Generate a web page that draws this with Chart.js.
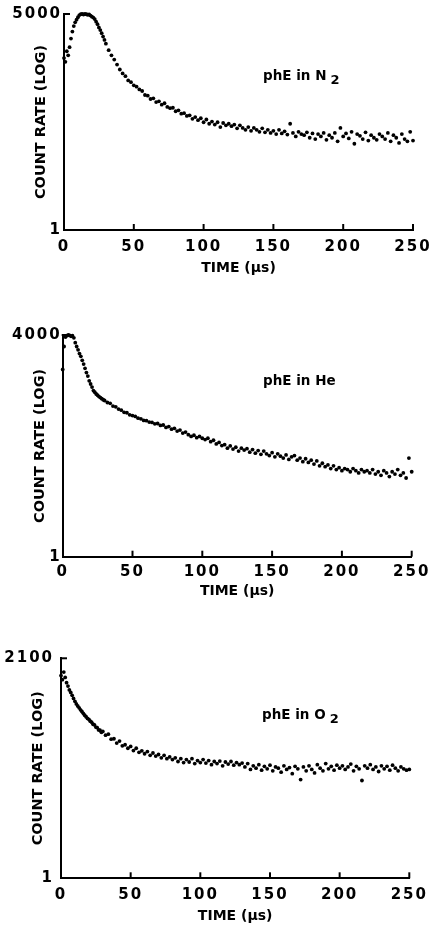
<!DOCTYPE html>
<html>
<head>
<meta charset="utf-8">
<script src="https://cdn.jsdelivr.net/npm/chart.js@4.4.1/dist/chart.umd.min.js"></script>
<style>
  html, body { margin: 0; padding: 0; background: #fff; }
  body { width: 430px; height: 928px; position: relative; overflow: hidden; }
  canvas { position: absolute; left: 0; }
  .lab { position: absolute; font-family: 'DejaVu Sans', sans-serif; font-weight: bold; font-size: 13.5px; line-height: 13.5px; color: #000; white-space: nowrap; }
  .lab sub { position: relative; top: 4px; margin-left: 4px; font-size: 13px; vertical-align: baseline; }
</style>
</head>
<body>
<canvas id="c1" width="430" height="290" style="top:0px"></canvas>
<canvas id="c2" width="430" height="310" style="top:300px"></canvas>
<canvas id="c3" width="430" height="318" style="top:610px"></canvas>
<div class="lab" style="left:263px;top:68.6px">phE in N<sub>2</sub></div>
<div class="lab" style="left:263px;top:373.6px">phE in He</div>
<div class="lab" style="left:262px;top:708px">phE in O<sub>2</sub></div>
<script>
// Time (μs) for each sample
const times = [
  0,1,2,3,4,5,6,7,8,9,
  10,11,12,13,14,15,16,17,18,19,
  20,21,22,23,24,25,26,27,28,29,
  30,32,34,36,38,40,42,44,46,48,
  50,52,54,56,58,60,62,64,66,68,
  70,72,74,76,78,80,82,84,86,88,
  90,92,94,96,98,100,102,104,106,108,
  110,112,114,116,118,120,122,124,126,128,
  130,132,134,136,138,140,142,144,146,148,
  150,152,154,156,158,160,162,164,166,168,
  170,172,174,176,178,180,182,184,186,188,
  190,192,194,196,198,200,202,204,206,208,
  210,212,214,216,218,220,222,224,226,228,
  230,232,234,236,238,240,242,244,246,248,
  250
];

// phE in N2 count rate
const countsN2 = [
  880,760,1150,980,1350,1900,2500,3100,3600,4000,
  4400,4800,4950,5000,4900,5000,4950,4850,4900,4700,
  4500,4350,4100,3700,3350,2950,2650,2350,2050,1800,
  1550,1200,980,830,680,560,480,430,365,340,
  300,285,255,240,205,200,175,180,155,160,
  140,148,128,122,124,108,112,98,100,90,
  92,80,86,76,82,70,78,66,72,64,
  70,58,68,62,66,60,64,55,62,56,
  52,58,50,56,52,48,55,47,52,46,
  50,44,52,45,49,43,66,46,40,48,
  44,42,47,38,45,36,44,40,46,35,
  42,38,46,33,56,40,45,37,48,30,
  44,41,36,47,34,42,38,35,44,40,
  36,46,33,42,38,31,44,36,33,48,
  34
];

// phE in He count rate
const countsHe = [
  1100,2600,3700,3900,4000,3950,3800,3900,3600,3000,
  2600,2300,2000,1800,1550,1350,1150,980,860,720,
  640,570,500,470,440,420,400,385,370,355,
  345,320,310,280,272,250,240,222,218,202,
  196,190,178,174,164,162,154,152,144,146,
  136,138,126,130,118,122,110,114,102,106,
  96,90,94,86,90,84,80,84,74,78,
  68,72,64,66,58,63,56,60,52,58,
  54,57,50,55,48,53,46,52,47,44,
  49,42,47,43,40,45,38,42,44,37,
  40,35,39,34,37,32,36,30,33,29,
  31,27,30,26,28,25,27,26,24,27,
  25,23,26,24,25,23,26,22,24,21,
  25,23,20,24,22,26,21,23,19,40,
  24
];

// phE in O2 count rate
const countsO2 = [
  1150,1000,1300,1080,900,800,700,640,580,520,
  470,430,400,375,350,330,310,290,275,260,
  252,236,228,212,208,192,188,174,172,160,
  165,145,150,126,128,110,118,100,104,92,
  98,85,92,80,84,76,82,72,78,70,
  74,66,72,64,68,62,66,58,64,56,
  62,57,64,54,60,56,62,55,60,52,
  58,54,59,50,57,53,58,51,56,52,
  55,48,54,44,50,46,52,43,49,45,
  51,42,48,46,40,50,44,47,38,49,
  45,31,48,42,50,44,39,52,46,42,
  54,45,49,43,51,46,50,44,48,53,
  42,49,45,30,50,46,52,44,48,41,
  50,45,49,43,51,46,42,48,45,43,
  44
];

// Axis tick labels / ranges
const xTicks = [0, 50, 100, 150, 200, 250];
const yMaxN2 = 5000, yMaxHe = 4000, yMaxO2 = 2100;
const xTitle = 'TIME (μs)';
const yTitle = 'COUNT RATE (LOG)';

Chart.defaults.font.family = "'DejaVu Sans', sans-serif";
Chart.defaults.color = '#000';

const letterSpacer = {
  id: 'letterSpacer',
  beforeDraw(chart) {
    Object.values(chart.scales).forEach(s => {
      if (s._lsWrapped) return;
      const orig = s.drawLabels;
      s.drawLabels = function (a) {
        const c = this.ctx;
        c.save();
        c.letterSpacing = '2px';
        orig.call(this, a);
        c.restore();
      };
      s._lsWrapped = true;
    });
  }
};

const innerTicks = {
  id: 'innerTicks',
  afterDraw(chart) {
    const { ctx } = chart;
    const x = chart.scales.x, y = chart.scales.y;
    ctx.save();
    ctx.strokeStyle = '#000';
    ctx.lineWidth = 2;
    x.ticks.forEach(t => {
      if (t.value === 0) return;
      const px = x.getPixelForValue(t.value);
      ctx.beginPath();
      ctx.moveTo(px, x.top);
      ctx.lineTo(px, x.top - 6);
      ctx.stroke();
    });
    const py = y.getPixelForValue(y.max);
    ctx.beginPath();
    ctx.moveTo(y.right - 1, py);
    ctx.lineTo(y.right + 6, py);
    ctx.stroke();
    ctx.restore();
  }
};

function makeChart(id, counts, yMax, g) {
  const pts = times.map((t, i) => ({ x: t, y: counts[i] }));
  return new Chart(document.getElementById(id), {
    type: 'scatter',
    data: {
      datasets: [{
        data: pts,
        pointRadius: 1.9,
        pointBackgroundColor: '#000',
        pointBorderWidth: 0,
        showLine: false,
        clip: false
      }]
    },
    options: {
      responsive: false,
      animation: false,
      devicePixelRatio: 1,
      layout: { padding: { top: g.padTop, right: g.padRight, bottom: 0, left: 0 } },
      plugins: { legend: { display: false }, tooltip: { enabled: false } },
      scales: {
        x: {
          type: 'linear',
          min: 0, max: 250,
          afterBuildTicks(s) { s.ticks = xTicks.map(v => ({ value: v })); },
          ticks: {
            font: { size: 15, weight: 'bold' },
            padding: g.xTickPad,
            maxRotation: 0,
            callback: v => String(v)
          },
          grid: { display: false, drawTicks: false },
          border: { display: true, width: 2, color: '#000' },
          title: {
            display: true, text: xTitle,
            font: { size: 14, weight: 'bold' },
            padding: { top: 0, bottom: g.xTitlePad }
          },
          afterFit(s) { s.height = g.xHeight; s.paddingLeft = 0; s.paddingRight = 0; }
        },
        y: {
          type: 'logarithmic',
          min: 1, max: yMax,
          afterBuildTicks(s) { s.ticks = [{ value: 1 }, { value: yMax }]; },
          ticks: {
            font: { size: 15, weight: 'bold' },
            padding: g.yTickPad,
            callback: v => String(v)
          },
          grid: { display: false, drawTicks: false },
          border: { display: true, width: 2, color: '#000' },
          title: {
            display: true, text: yTitle,
            font: { size: 14.5, weight: 'bold' },
            padding: { top: g.yTitlePad, bottom: 0 }
          },
          afterFit(s) { s.width = g.yWidth; s.paddingTop = 0; s.paddingBottom = 0; }
        }
      }
    },
    plugins: [letterSpacer, innerTicks]
  });
}

makeChart('c1', countsN2, yMaxN2, {
  padTop: 14, padRight: 17, xHeight: 60, yWidth: 64,
  xTickPad: 8.5, xTitlePad: 13.6, yTitlePad: 32.8, yTickPad: 2
});
makeChart('c2', countsHe, yMaxHe, {
  padTop: 35, padRight: 18.3, xHeight: 53.3, yWidth: 62.7,
  xTickPad: 6, xTitlePad: 9.9, yTitlePad: 31.3, yTickPad: 1
});
makeChart('c3', countsO2, yMaxO2, {
  padTop: 48.3, padRight: 20.7, xHeight: 49.7, yWidth: 61,
  xTickPad: 7.7, xTitlePad: 2.9, yTitlePad: 29.8, yTickPad: 7
});
</script>
</body>
</html>
